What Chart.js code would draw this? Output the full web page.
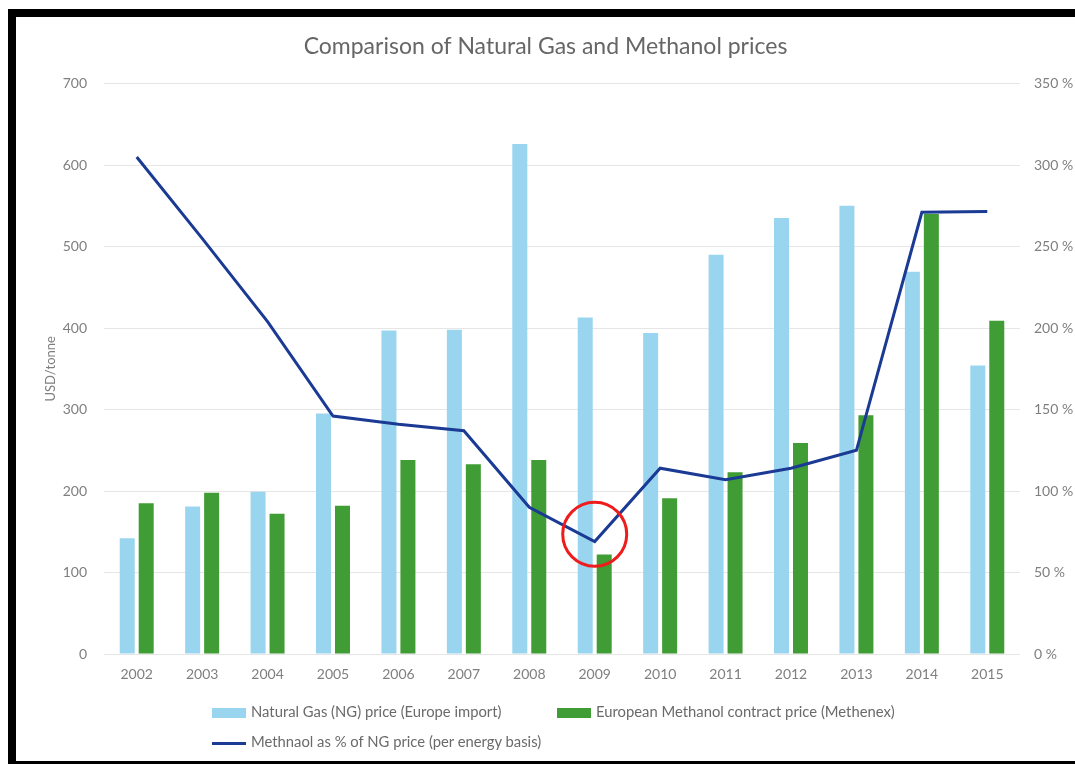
<!DOCTYPE html>
<html>
<head>
<meta charset="utf-8">
<title>Comparison of Natural Gas and Methanol prices</title>
<script src="https://cdn.jsdelivr.net/npm/chart.js@4.4.1/dist/chart.umd.min.js"></script>
<style>
	html, body { margin: 0; padding: 0; background: #fff; overflow: hidden; }
	#frame {
		position: absolute;
		left: 8px;
		top: 9px;
		width: 1075px;
		height: 744px;
		border: 8px solid #000;
	}
	#chart { position: absolute; left: 0; top: 0; }
	.lg-item {
		position: absolute;
		font-family: Lato, "Open Sans", sans-serif;
		font-size: 14.8px;
		color: #6a6a6a;
		white-space: nowrap;
		line-height: 18px;
	}
	.lg-mark { display: inline-block; width: 34px; vertical-align: middle; margin-right: 5px; }
</style>
</head>
<body>
<div id="frame">
	<canvas id="chart" width="1059" height="744"></canvas>
	<div id="legend"></div>
</div>
<script>
// data
var years = ['2002', '2003', '2004', '2005', '2006', '2007', '2008', '2009', '2010', '2011', '2012', '2013', '2014', '2015'];
var gasPrice = [142, 181, 199, 295, 397, 398, 626, 413, 394, 490, 535, 550, 469, 354];
var methanolPrice = [185, 198, 172, 182, 238, 233, 238, 122, 191, 223, 259, 293, 540, 409];
var methanolPct = [305, 255, 204, 146, 141, 137, 90, 69, 114, 107, 114, 125, 271, 271.5];
// red ring drawn around the 2009 low (USD/tonne axis)
var highlight = [null, null, null, null, null, null, null, 147, null, null, null, null, null, null];

var FONT = 'Lato, "Open Sans", sans-serif';

var ctx = document.getElementById('chart');
var chart = new Chart(ctx, {
	type: 'bar',
	data: {
		labels: years,
		datasets: [{
			label: 'Natural Gas (NG) price (Europe import)',
			data: gasPrice,
			backgroundColor: '#99d5ef',
			yAxisID: 'y',
			order: 2,
			categoryPercentage: 0.58,
			barPercentage: 0.79
		}, {
			label: 'European Methanol contract price (Methenex)',
			data: methanolPrice,
			backgroundColor: '#409c35',
			yAxisID: 'y',
			order: 2,
			categoryPercentage: 0.58,
			barPercentage: 0.79
		}, {
			type: 'line',
			label: 'Methnaol as % of NG price (per energy basis)',
			data: methanolPct,
			borderColor: '#1a3a94',
			backgroundColor: '#1a3a94',
			borderWidth: 3,
			pointRadius: 0,
			tension: 0,
			fill: false,
			yAxisID: 'y1',
			order: 1
		}, {
			type: 'line',
			label: 'highlight',
			data: highlight,
			showLine: false,
			pointRadius: 32,
			pointBorderWidth: 3,
			pointBorderColor: '#ee1c1c',
			pointBackgroundColor: 'rgba(0,0,0,0)',
			yAxisID: 'y',
			order: 0
		}]
	},
	options: {
		responsive: false,
		devicePixelRatio: 1,
		animation: false,
		layout: { padding: 0 },
		plugins: {
			legend: { display: false },
			tooltip: { enabled: false },
			title: {
				display: true,
				text: 'Comparison of Natural Gas and Methanol prices',
				color: '#666666',
				font: { family: FONT, size: 23, weight: 'normal' },
				padding: { top: 16, bottom: 23 }
			}
		},
		scales: {
			x: {
				grid: { display: false, drawTicks: false },
				border: { display: false },
				ticks: { color: '#7f7f7f', font: { family: FONT, size: 14 }, padding: 12 },
				afterFit: function(s) { s.height = 107; }
			},
			y: {
				position: 'left',
				min: 0,
				max: 700,
				ticks: { stepSize: 100, color: '#7f7f7f', font: { family: FONT, size: 14 }, padding: 17 },
				grid: { color: '#e6e6e6', lineWidth: 1, drawTicks: false },
				border: { display: false },
				title: {
					display: true,
					text: 'USD/tonne',
					color: '#7f7f7f',
					font: { family: FONT, size: 13 },
					padding: { top: 27, bottom: 0 }
				},
				afterFit: function(s) { s.width = 88; }
			},
			y1: {
				position: 'right',
				min: 0,
				max: 350,
				ticks: {
					stepSize: 50,
					color: '#7f7f7f',
					font: { family: FONT, size: 14 },
					padding: 14,
					callback: function(v) { return v + ' %'; }
				},
				grid: { display: false, drawTicks: false },
				border: { display: false },
				afterFit: function(s) { s.width = 55; }
			}
		}
	}
});

// legend built from the chart's datasets, laid out in two rows like the original
var legendSlots = [
	{ left: 196, top: 685 },
	{ left: 541, top: 685 },
	{ left: 196, top: 715 }
];
var legend = document.getElementById('legend');
chart.data.datasets.slice(0, 3).forEach(function(ds, i) {
	var item = document.createElement('div');
	item.className = 'lg-item';
	item.style.left = legendSlots[i].left + 'px';
	item.style.top = legendSlots[i].top + 'px';
	var mark = document.createElement('span');
	mark.className = 'lg-mark';
	if (ds.type === 'line') {
		mark.style.height = '3px';
		mark.style.background = ds.borderColor;
	} else {
		mark.style.height = '10px';
		mark.style.background = ds.backgroundColor;
	}
	item.appendChild(mark);
	item.appendChild(document.createTextNode(ds.label));
	legend.appendChild(item);
});
</script>
</body>
</html>
